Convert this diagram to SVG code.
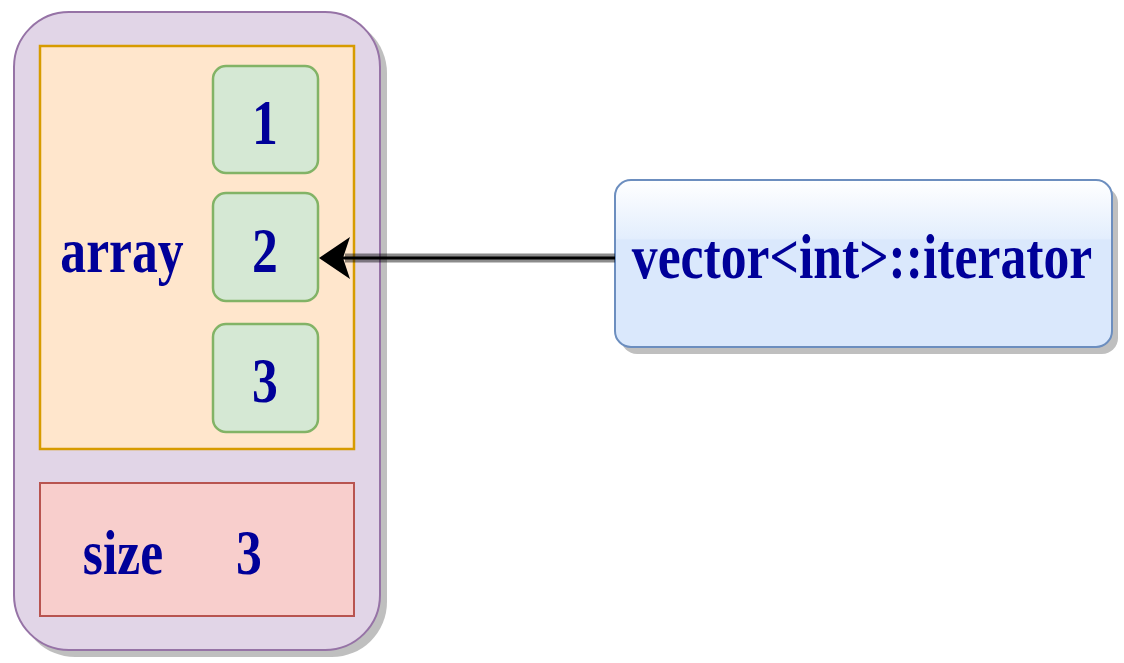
<svg xmlns="http://www.w3.org/2000/svg" width="1124" height="663" viewBox="0 0 1124 663">
  <defs>
    <style>
      .lbl { font-family: "Liberation Serif", "Times New Roman", serif; font-weight: bold; font-size: 63px; fill: #000099; text-anchor: middle; }
      .shadow { fill: #000000; opacity: 0.25; }
      .cell { fill: #d5e8d4; stroke: #82b366; stroke-width: 2.5; }
    </style>
    <linearGradient id="blueFill" x1="0" y1="0" x2="0" y2="1">
      <stop offset="0" stop-color="#ffffff"/>
      <stop offset="0.35" stop-color="#e3eefd"/>
      <stop offset="0.36" stop-color="#dae8fc"/>
      <stop offset="1" stop-color="#dae8fc"/>
    </linearGradient>
  </defs>

  <rect width="1124" height="663" fill="#ffffff"/>

  <!-- vector object -->
  <g id="vector">
    <rect class="shadow" x="20" y="18" width="367" height="639" rx="55"/>
    <rect x="14" y="12" width="366" height="638" rx="55" fill="#e1d5e7" stroke="#9673a6" stroke-width="2"/>
  </g>

  <!-- backing array -->
  <g id="array">
    <rect x="40" y="46" width="314" height="403" fill="#ffe6cc" stroke="#d79b00" stroke-width="2.5"/>
    <text class="lbl" transform="translate(122,272) scale(0.82,1)">array</text>
  </g>

  <g id="elem1">
    <rect class="cell" x="213" y="66" width="105" height="107" rx="13"/>
    <text class="lbl" transform="translate(265,144) scale(0.82,1)">1</text>
  </g>
  <g id="elem2">
    <rect class="cell" x="213" y="193" width="105" height="108" rx="13"/>
    <text class="lbl" transform="translate(265,272) scale(0.82,1)">2</text>
  </g>
  <g id="elem3">
    <rect class="cell" x="213" y="324" width="105" height="108" rx="13"/>
    <text class="lbl" transform="translate(265,402) scale(0.82,1)">3</text>
  </g>

  <!-- size field -->
  <g id="size">
    <rect x="40" y="483" width="314" height="133" fill="#f8cecc" stroke="#b85450" stroke-width="2"/>
    <text class="lbl" transform="translate(123,574) scale(0.82,1)">size</text>
    <text class="lbl" transform="translate(249,574) scale(0.82,1)">3</text>
  </g>

  <!-- iterator -->
  <g id="iterator">
    <rect class="shadow" x="621" y="187" width="497" height="167" rx="16"/>
    <rect x="615" y="180" width="497" height="167" rx="16" fill="url(#blueFill)" stroke="#6c8ebf" stroke-width="2"/>
    <text class="lbl" transform="translate(862,278) scale(0.82,1)">vector&lt;int&gt;::iterator</text>
  </g>

  <!-- connectors -->
  <g id="connectors">
    <line x1="345" y1="258" x2="615" y2="258" stroke="#000000" stroke-opacity="0.45" stroke-width="9"/>
    <line x1="340" y1="258" x2="615" y2="258" stroke="#000000" stroke-width="3"/>
    <path d="M319,258 L350,237 L343,258 L350,279 Z" fill="#000000"/>
  </g>
</svg>
